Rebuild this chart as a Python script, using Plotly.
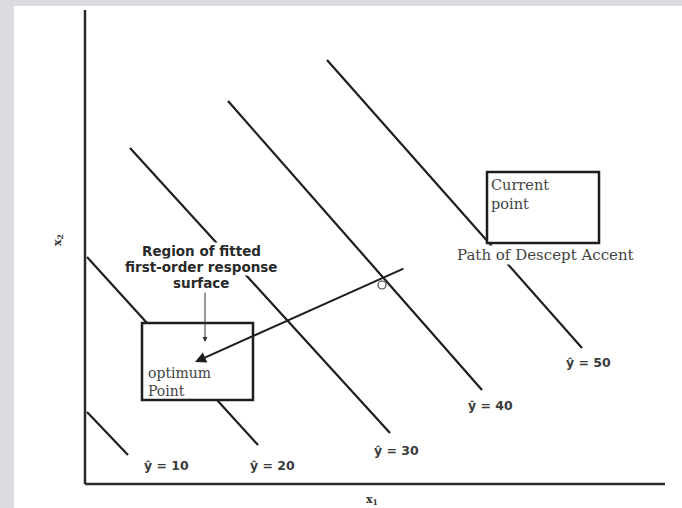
import plotly.graph_objects as go

# Contour lines of the fitted first-order response surface (x1, x2 units)
levels = [10, 20, 30, 40, 50]
level_labels = ["ŷ = 10", "ŷ = 20", "ŷ = 30", "ŷ = 40", "ŷ = 50"]
x1_start = [2, 2, 45, 143, 242]
x2_start = [72, 227, 336, 383, 424]
x1_end = [43, 173, 305, 397, 497]
x2_end = [29, 39, 51, 94, 136]

# Axis extents
x1_axis = [0, 580]
x2_axis = [0, 474]

# Path of steepest ascent: from current point toward the optimum region
path_x1 = [320, 110]
path_x2 = [216, 122]

# Boxes: [x1_min, x1_max, x2_min, x2_max]
current_box = [402, 514, 241, 312]
optimum_box = [57, 168, 84, 161]

# Where each contour label sits (x1, x2 of the label centre)
label_pos = [(81, 19), (187, 19), (311, 34), (405, 79), (503, 122)]

ink = "#1e1e1e"
serif = "DejaVu Serif, serif"
sans_bold = "DejaVu Sans, Arial, sans-serif"

fig = go.Figure()

# axes
fig.add_trace(go.Scatter(x=[x1_axis[0], x1_axis[0]], y=[x2_axis[0], x2_axis[1]],
                         mode="lines", line=dict(color="#2a2a2a", width=2.5),
                         hoverinfo="skip", showlegend=False))
fig.add_trace(go.Scatter(x=[x1_axis[0], x1_axis[1]], y=[x2_axis[0], x2_axis[0]],
                         mode="lines", line=dict(color="#2a2a2a", width=2.5),
                         hoverinfo="skip", showlegend=False))

# contour lines and their labels
for i, lv in enumerate(levels):
    fig.add_trace(go.Scatter(x=[x1_start[i], x1_end[i]], y=[x2_start[i], x2_end[i]],
                             mode="lines", line=dict(color=ink, width=2.2),
                             name=f"y={lv}", hoverinfo="skip", showlegend=False))
    fig.add_annotation(x=label_pos[i][0], y=label_pos[i][1],
                       text="<b>" + level_labels[i] + "</b>",
                       showarrow=False, xanchor="center", yanchor="middle",
                       font=dict(family=sans_bold, size=12.5, color="#3a3a3a"))

# boxes (white fill hides the contour lines behind them)
for b in (current_box, optimum_box):
    fig.add_shape(type="rect", x0=b[0], x1=b[1], y0=b[2], y1=b[3],
                  line=dict(color=ink, width=2.5), fillcolor="white")

# path arrow
fig.add_annotation(x=path_x1[1], y=path_x2[1], ax=path_x1[0], ay=path_x2[0],
                   xref="x", yref="y", axref="x", ayref="y", text="",
                   showarrow=True, arrowhead=2, arrowsize=1.1, arrowwidth=2,
                   arrowcolor=ink)

# small marker where the path crosses the y=40 contour
fig.add_shape(type="circle", x0=293, x1=301, y0=195, y1=203,
              line=dict(color="#444", width=1.2))

# region label and its pointer
region_lines = ["Region of fitted", "first-order response", "surface"]
for k, txt in enumerate(region_lines):
    fig.add_annotation(x=116, y=233 - 16 * k, text="<b>" + txt + "</b>",
                       showarrow=False, yanchor="middle", bgcolor="white",
                       borderpad=0,
                       font=dict(family=sans_bold, size=13.5, color="#2a2a2a"))
fig.add_annotation(x=120, y=142, ax=120, ay=193, xref="x", yref="y",
                   axref="x", ayref="y", text="", showarrow=True,
                   arrowhead=2, arrowsize=1, arrowwidth=1, arrowcolor="#333")

# box texts
fig.add_annotation(x=current_box[0] + 2, y=current_box[3] - 3,
                   text="Current<br>point", showarrow=False, align="left",
                   xanchor="left", yanchor="top",
                   font=dict(family=serif, size=14.5, color="#444"))
fig.add_annotation(x=460, y=229, text="Path of Descept Accent", showarrow=False,
                   xanchor="center", yanchor="middle", bgcolor="white", borderpad=0,
                   font=dict(family=serif, size=15, color="#444"))
fig.add_annotation(x=optimum_box[0] + 4, y=121, text="optimum<br>Point",
                   showarrow=False, align="left", xanchor="left", yanchor="top",
                   font=dict(family=serif, size=14, color="#444"))

# axis titles
fig.add_annotation(x=287, y=-16, text="<b>x<sub>1</sub></b>", showarrow=False,
                   font=dict(family=serif, size=11, color="#333"))
fig.add_annotation(x=-27, y=244, text="<b>x<sub>2</sub></b>", showarrow=False,
                   textangle=-90, font=dict(family=serif, size=11, color="#333"))

# light grey frame bands
fig.add_shape(type="rect", xref="paper", yref="paper", x0=0, x1=1,
              y0=1 - 6 / 508, y1=1, line=dict(width=0), fillcolor="#d9dbde", layer="below")
fig.add_shape(type="rect", xref="paper", yref="paper", x0=0, x1=14 / 682,
              y0=0, y1=1, line=dict(width=0), fillcolor="#d9dbde", layer="below")

fig.update_layout(
    width=682, height=508,
    margin=dict(l=0, r=0, t=0, b=0),
    paper_bgcolor="white", plot_bgcolor="white",
    xaxis=dict(range=[-85, 597], visible=False, fixedrange=True),
    yaxis=dict(range=[-24, 484], visible=False, fixedrange=True),
    showlegend=False,
)

fig.write_html("out.html")
